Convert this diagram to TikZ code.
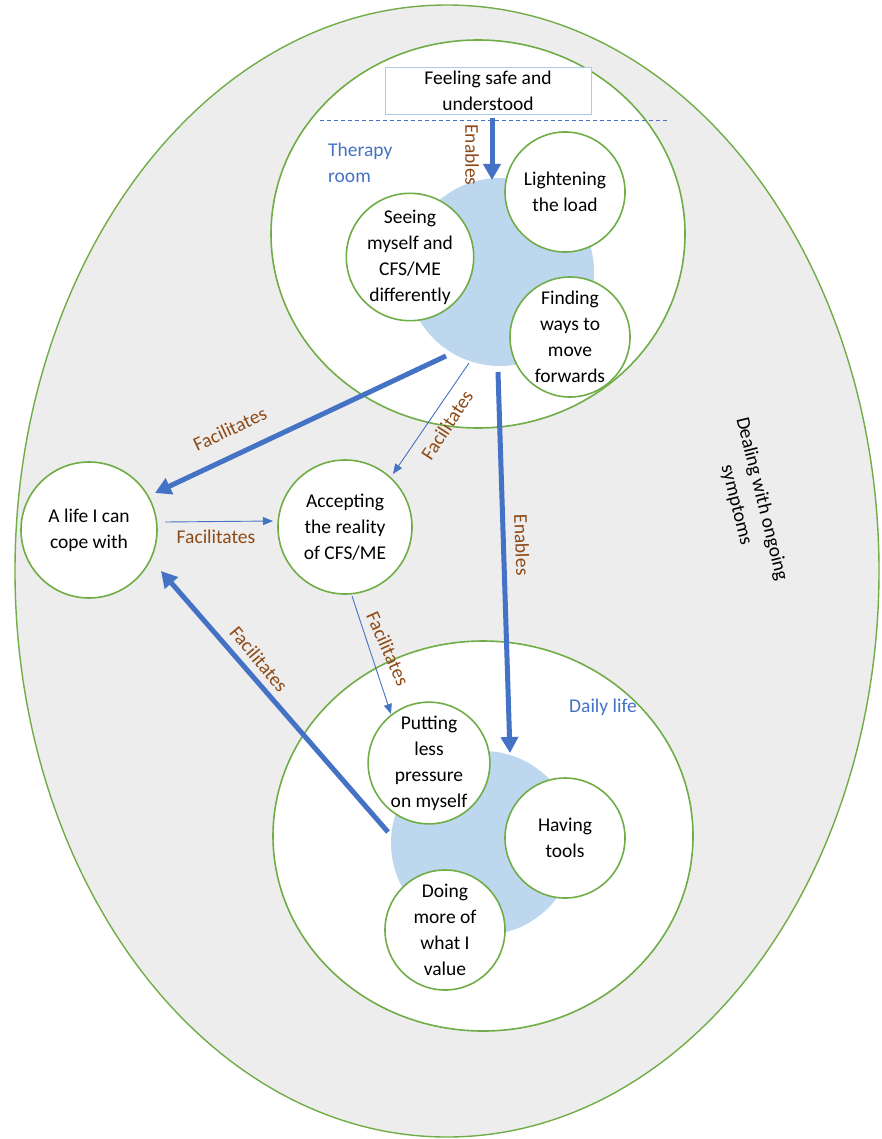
\documentclass[tikz,border=0pt]{standalone}
\usepackage{fontspec}
\setmainfont{Carlito}
\usetikzlibrary{shapes.geometric,arrows.meta}
\definecolor{grn}{HTML}{70AD47}
\definecolor{blu}{HTML}{4472C4}
\definecolor{lblu}{HTML}{BDD7EE}
\definecolor{boxb}{HTML}{A9CBEA}
\definecolor{gry}{HTML}{EDEDED}
\definecolor{brn}{HTML}{8E4A17}
\tikzset{
  bubble/.style={circle,draw=grn,line width=1.6pt,fill=white,minimum size=120pt,inner sep=0pt,align=center,font=\fontsize{19.5}{26}\selectfont},
  zone/.style={ellipse,draw=grn,line width=1.6pt,fill=white,inner sep=0pt},
  core/.style={circle,fill=lblu,inner sep=0pt},
  thickarr/.style={draw=blu,line width=5pt,-{Triangle[length=16pt,width=17pt]}},
  thinarr/.style={draw=blu,line width=0.9pt,-{Triangle[length=10pt,width=8pt]}},
  lbl/.style={text=brn,font=\fontsize{19.5}{26}\selectfont,inner sep=0pt},
  bluetxt/.style={text=blu,font=\fontsize{19.5}{26}\selectfont,inner sep=0pt}
}
\begin{document}
\begin{tikzpicture}[x=1pt,y=-1pt]
\useasboundingbox (0,0) rectangle (882,1139);
% outer ellipse
\node[ellipse,draw=grn,line width=1.4pt,fill=gry,minimum width=864pt,minimum height=1132pt,inner sep=0pt] (outer) at (447,571) {};
% zones
\node[zone,minimum width=414pt,minimum height=388pt] (therapy) at (478,234) {};
\node[zone,minimum width=420pt,minimum height=390pt] (daily) at (483,836) {};
% dashed line
\coordinate (dl) at (320,120);
\coordinate (dr) at (667,120);
\draw[blu,line width=0.8pt,dash pattern=on 4pt off 3pt] (dl) -- (dr);
% cores
\node[core,minimum size=188pt] (core1) at (500,272) {};
\node[core,minimum size=184pt] (core2) at (483,843) {};
% bubbles
\node[bubble] (light) at (565,192) {Lightening\\the load};
\node[bubble] (seeing) at (410,257) {Seeing\\myself and\\CFS/ME\\differently};
\node[bubble] (finding) at (570,337) {Finding\\ways to\\move\\forwards};
\node[bubble,minimum size=136pt] (life) at (89,530) {A life I can\\cope with};
\node[bubble,minimum size=134pt] (accept) at (345,527) {Accepting\\the reality\\of CFS/ME};
\node[bubble] (putting) at (429,763) {Putting\\less\\pressure\\on myself};
\node[bubble] (tools) at (565,838) {Having\\tools};
\node[bubble] (doing) at (445,930) {Doing\\more of\\what I\\value};
% feeling box
\node[draw=boxb,line width=0.8pt,fill=white,minimum width=206pt,minimum height=47pt,inner sep=0pt,align=center,font=\fontsize{19.5}{26}\selectfont] (feel) at (488,90.5) {Feeling safe and\\understood};
% zone labels
\node[bluetxt,anchor=west,align=left] (tr) at (328,163) {Therapy\\room};
\node[bluetxt] (dlife) at (603,707) {Daily life};
\node[font=\fontsize{19.5}{26}\selectfont,rotate=-76,align=center,inner sep=0pt] (deal) at (749,502) {Dealing with ongoing\\symptoms};
% arrow coordinates
\coordinate (a1s) at (492,118);
\coordinate (a1e) at (492,180);
\coordinate (a2s) at (446,356);
\coordinate (a2e) at (155,493);
\coordinate (a3s) at (469,363);
\coordinate (a3e) at (393,474);
\coordinate (a4s) at (165,522);
\coordinate (a4e) at (273,521);
\coordinate (a5s) at (352,596);
\coordinate (a5e) at (391,714);
\coordinate (a6s) at (498,372);
\coordinate (a6e) at (510,753);
\coordinate (a7s) at (388,832);
\coordinate (a7e) at (161,571);
% arrows
\draw[thickarr] (a1s) -- (a1e);
\draw[thickarr] (a2s) -- (a2e);
\draw[thinarr] (a3s) -- (a3e);
\draw[thinarr] (a4s) -- (a4e);
\draw[thinarr] (a5s) -- (a5e);
\draw[thickarr] (a6s) -- (a6e);
\draw[thickarr] (a7s) -- (a7e);
% arrow labels
\node[lbl,rotate=-90] (l1) at (472,155) {Enables};
\node[lbl,rotate=25] (l2) at (230,429) {Facilitates};
\node[lbl,rotate=57] (l3) at (447,425) {Facilitates};
\node[lbl] (l4) at (216,537) {Facilitates};
\node[lbl,rotate=-66] (l5) at (388,649) {Facilitates};
\node[lbl,rotate=-88] (l6) at (522,545) {Enables};
\node[lbl,rotate=-50] (l7) at (259,659) {Facilitates};
\end{tikzpicture}
\end{document}
